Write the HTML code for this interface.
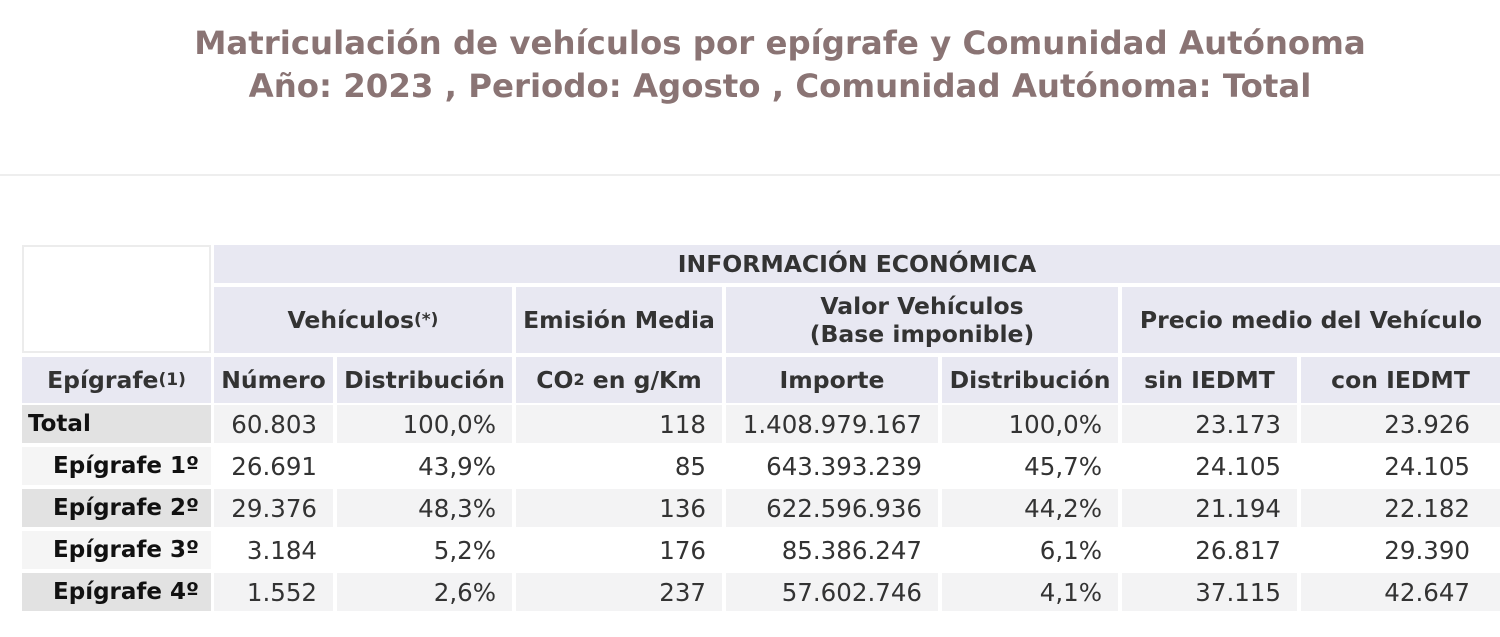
<!DOCTYPE html>
<html><head><meta charset="utf-8"><style>
body{margin:0;width:1500px;height:637px;background:#fff;font-family:"DejaVu Sans","Liberation Sans",sans-serif;position:relative;overflow:hidden}
.t{position:absolute;left:0;width:1560px;text-align:center;font-weight:bold;font-size:32.4px;color:#8a7474;white-space:nowrap}
.c{position:absolute;box-sizing:border-box;display:flex;align-items:center;white-space:nowrap;color:#333}
.h{background:#e8e8f2;font-weight:bold;font-size:23.5px;justify-content:center;text-align:center;line-height:28px}
.d{font-size:24.5px;justify-content:flex-end;padding-right:16px;color:#333}
.l{font-weight:bold;font-size:23px;color:#111}
sup{font-size:17px;vertical-align:10px;line-height:0}
</style></head><body>
<div class="t" style="top:24px">Matriculación de vehículos por epígrafe y Comunidad Autónoma</div>
<div class="t" style="top:67px">Año: 2023 , Periodo: Agosto , Comunidad Autónoma: Total</div>
<div style="position:absolute;left:0;top:174px;width:1500px;height:2px;background:#eeeeee"></div>
<div class="c" style="left:22px;top:245px;width:189px;height:108px;border:2px solid #ececec;background:#fff"></div>
<div class="c h" style="left:214px;top:245px;width:1286px;height:38px">INFORMACIÓN ECONÓMICA</div>
<div class="c h" style="left:214px;top:287px;width:298px;height:66px">Vehículos<sup>(*)</sup></div>
<div class="c h" style="left:516px;top:287px;width:206px;height:66px">Emisión Media</div>
<div class="c h" style="left:726px;top:287px;width:392px;height:66px">Valor Vehículos<br>(Base imponible)</div>
<div class="c h" style="left:1122px;top:287px;width:378px;height:66px">Precio medio del Vehículo</div>
<div class="c h" style="left:22px;top:357px;width:189px;height:46px">Epígrafe<sup>(1)</sup></div>
<div class="c h" style="left:214px;top:357px;width:119px;height:46px">Número</div>
<div class="c h" style="left:337px;top:357px;width:175px;height:46px">Distribución</div>
<div class="c h" style="left:516px;top:357px;width:206px;height:46px">CO<sub style="font-size:16px;vertical-align:-6px;line-height:0">2</sub>&nbsp;en g/Km</div>
<div class="c h" style="left:726px;top:357px;width:212px;height:46px">Importe</div>
<div class="c h" style="left:942px;top:357px;width:176px;height:46px">Distribución</div>
<div class="c h" style="left:1122px;top:357px;width:175px;height:46px">sin IEDMT</div>
<div class="c h" style="left:1301px;top:357px;width:199px;height:46px">con IEDMT</div>
<div id="rows"></div>
<script>
const labels=["Total","Epígrafe 1º","Epígrafe 2º","Epígrafe 3º","Epígrafe 4º"];
const numero=["60.803","26.691","29.376","3.184","1.552"];
const distVeh=["100,0%","43,9%","48,3%","5,2%","2,6%"];
const co2=["118","85","136","176","237"];
const importe=["1.408.979.167","643.393.239","622.596.936","85.386.247","57.602.746"];
const distVal=["100,0%","45,7%","44,2%","6,1%","4,1%"];
const sinI=["23.173","24.105","21.194","26.817","37.115"];
const conI=["23.926","24.105","22.182","29.390","42.647"];
const cols=[[214,119,numero,"numero",16],[337,175,distVeh,"distribucion-vehiculos",16],[516,206,co2,"co2",16],[726,212,importe,"importe",16],[942,176,distVal,"distribucion-valor",16],[1122,175,sinI,"sin-iedmt",16],[1301,199,conI,"con-iedmt",30]];
const root=document.getElementById('rows');
labels.forEach((lab,i)=>{
  const top=405+i*42, shaded=(i%2===0);
  const l=document.createElement('div');
  l.className='c l';
  
  
  l.style.cssText=`left:22px;top:${top}px;width:189px;height:38px;background:${shaded?'#e2e2e2':'#f5f5f5'};`+(i===0?'padding-left:6px;':'justify-content:flex-end;padding-right:12px;');
  l.textContent=lab;
  root.appendChild(l);
  cols.forEach(([x,w,arr,nm,pr])=>{
    const d=document.createElement('div');
    d.className='c d';
    
    
    d.style.cssText=`left:${x}px;top:${top}px;width:${w}px;height:38px;background:${shaded?'#f3f3f4':'#fff'};padding-right:${pr}px;`;
    d.textContent=arr[i];
    root.appendChild(d);
  });
});
</script>
</body></html>
